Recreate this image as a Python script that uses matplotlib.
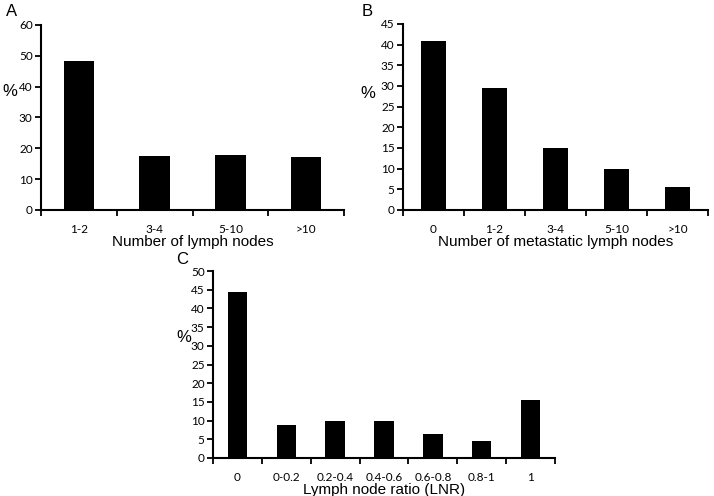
import matplotlib
matplotlib.use("Agg")
import matplotlib.pyplot as plt
import numpy as np

plt.rcParams['font.family'] = ['Liberation Sans', 'DejaVu Sans']

cats_a = ["1-2", "3-4", "5-10", ">10"]
vals_a = [48.3, 17.5, 17.8, 17.2]

cats_b = ["0", "1-2", "3-4", "5-10", ">10"]
vals_b = [41.0, 29.4, 15.0, 10.0, 5.5]

cats_c = ["0", "0-0.2", "0.2-0.4", "0.4-0.6", "0.6-0.8", "0.8-1", "1"]
vals_c = [44.5, 8.7, 9.8, 9.9, 6.4, 4.5, 15.5]

W, H = 714, 496
fig = plt.figure(figsize=(W / 100, H / 100), dpi=100)


def px_axes(x0, y0, x1, y1):
    # pixel box (left, top, right, bottom) -> figure fraction
    return fig.add_axes([x0 / W, 1 - y1 / H, (x1 - x0) / W, (y1 - y0) / H])


def panel(ax, cats, vals, ymax, ystep, xlabel):
    n = len(cats)
    x = np.arange(n)
    ax.bar(x, vals, width=0.4, color="black")
    ax.set_xlim(-0.5, n - 0.5)
    ax.set_ylim(0, ymax)
    ax.set_yticks(np.arange(0, ymax + 0.1, ystep))
    ax.set_xticks(x)
    ax.set_xticklabels(cats, family=["Lato", "DejaVu Sans"])
    for t in ax.get_yticklabels():
        t.set_family(["Lato", "DejaVu Sans"])
    ax.set_xticks(np.arange(n + 1) - 0.5, minor=True)
    ax.tick_params(axis="x", which="major", length=0, pad=10, labelsize=8.5)
    ax.tick_params(axis="x", which="minor", length=4, width=1.3, direction="out")
    ax.tick_params(axis="y", length=4, width=1.3, direction="out", labelsize=8.5, pad=2)
    for s in ("top", "right"):
        ax.spines[s].set_visible(False)
    for s in ("left", "bottom"):
        ax.spines[s].set_linewidth(1.5)
    ax.set_xlabel(xlabel, fontsize=11, labelpad=0)


ax_a = px_axes(41, 25, 344, 210)
panel(ax_a, cats_a, vals_a, 60, 10, "Number of lymph nodes")

ax_b = px_axes(403, 24, 708, 210)
panel(ax_b, cats_b, vals_b, 45, 5, "Number of metastatic lymph nodes")

ax_c = px_axes(213, 271, 555, 458)
panel(ax_c, cats_c, vals_c, 50, 5, "Lymph node ratio (LNR)")

# panel letters and % labels
fig.text(12 / W, 1 - 12 / H, "A", fontsize=12, ha="center", va="center")
fig.text(367 / W, 1 - 12 / H, "B", fontsize=12, ha="center", va="center")
fig.text(182 / W, 1 - 260 / H, "C", fontsize=12, ha="center", va="center")
fig.text(10 / W, 1 - 92 / H, "%", fontsize=12, ha="center", va="center")
fig.text(368 / W, 1 - 93 / H, "%", fontsize=12, ha="center", va="center")
fig.text(184 / W, 1 - 338 / H, "%", fontsize=12, ha="center", va="center")

fig.savefig("out.png", dpi=100)
